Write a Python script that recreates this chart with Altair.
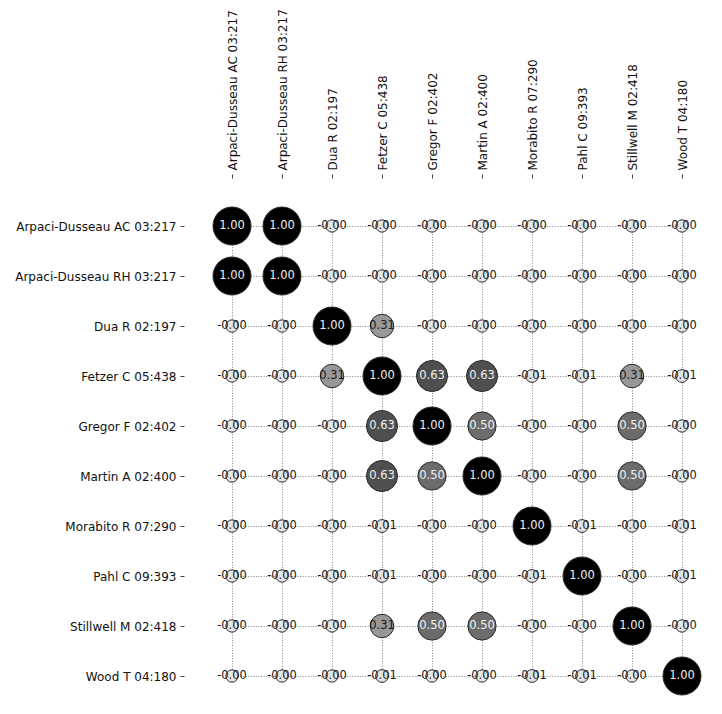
import altair as alt
import pandas as pd

names = [
    "Arpaci-Dusseau AC 03:217",
    "Arpaci-Dusseau RH 03:217",
    "Dua R 02:197",
    "Fetzer C 05:438",
    "Gregor F 02:402",
    "Martin A 02:400",
    "Morabito R 07:290",
    "Pahl C 09:393",
    "Stillwell M 02:418",
    "Wood T 04:180",
]

z = -0.001
row_ac = [1.00, 1.00, z, z, z, z, z, z, z, z]
row_rh = [1.00, 1.00, z, z, z, z, z, z, z, z]
row_dua = [z, z, 1.00, 0.31, z, z, z, z, z, z]
row_fetzer = [z, z, 0.31, 1.00, 0.63, 0.63, -0.01, -0.01, 0.31, -0.01]
row_gregor = [z, z, z, 0.63, 1.00, 0.50, z, z, 0.50, z]
row_martin = [z, z, z, 0.63, 0.50, 1.00, z, z, 0.50, z]
row_morabito = [z, z, z, -0.01, z, z, 1.00, -0.01, z, -0.01]
row_pahl = [z, z, z, -0.01, z, z, -0.01, 1.00, z, -0.01]
row_stillwell = [z, z, z, 0.31, 0.50, 0.50, z, z, 1.00, z]
row_wood = [z, z, z, -0.01, z, z, -0.01, -0.01, z, 1.00]

matrix = [row_ac, row_rh, row_dua, row_fetzer, row_gregor, row_martin,
          row_morabito, row_pahl, row_stillwell, row_wood]

records = []
for i, rname in enumerate(names):
    for j, cname in enumerate(names):
        v = matrix[i][j]
        records.append({
            "row": rname,
            "col": cname,
            "value": v,
            "absval": abs(v),
            "label": f"{v:.2f}",
        })
df = pd.DataFrame(records)

FONT = "DejaVu Sans"

x_enc = alt.X("col:N", sort=names, title=None,
              scale=alt.Scale(type="point", range=[48, 498], padding=0),
              axis=alt.Axis(orient="top", labelAngle=270, grid=True,
                            domain=False, tickSize=4, labelPadding=4))
y_enc = alt.Y("row:N", sort=names, title=None,
              scale=alt.Scale(type="point", range=[48, 498], padding=0),
              axis=alt.Axis(orient="left", grid=True, domain=False,
                            tickSize=4, labelPadding=4))

base = alt.Chart(df).encode(x=x_enc, y=y_enc)

circles = base.mark_circle(opacity=1, stroke="#2a2a2a", strokeWidth=1).encode(
    size=alt.Size("absval:Q", scale=alt.Scale(domain=[0, 1], range=[150, 1444]), legend=None),
    color=alt.Color("absval:Q", scale=alt.Scale(domain=[0, 1], range=["#e6e6e6", "#000000"]), legend=None),
)

texts = base.mark_text(font=FONT, fontSize=11.5).encode(
    text="label:N",
    color=alt.condition(alt.datum.absval > 0.4, alt.value("#f2f2f2"), alt.value("#1a1a1a")),
)

chart = (circles + texts).properties(
    width=528, height=526,
    autosize=alt.AutoSizeParams(type="none"),
    padding={"left": 176, "top": 170, "right": 0, "bottom": 0},
).configure_view(stroke=None).configure_axis(
    labelFont=FONT, labelFontSize=12, labelColor="#111111",
    tickColor="#111111", tickWidth=0.8,
    gridColor="#666666", gridDash=[1, 1.6], gridWidth=0.8,
    labelLimit=0, labelOverlap=False,
)

chart.save("out.html", embed_options={"renderer": "svg", "actions": False})
